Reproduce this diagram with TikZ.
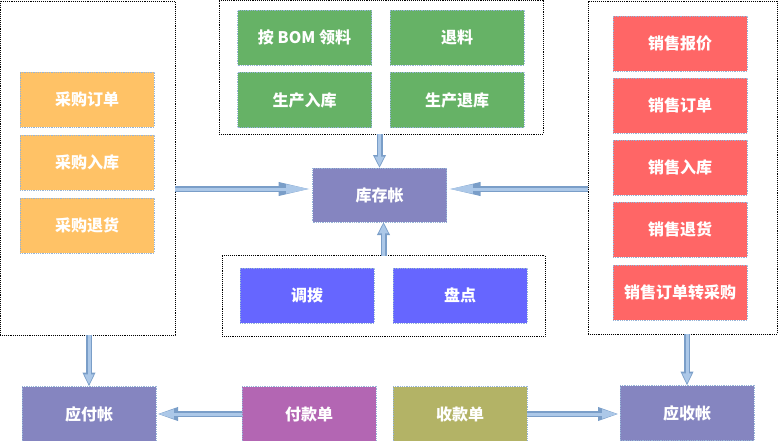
\documentclass[tikz,border=0pt]{standalone}
\usepackage{fontspec}
\newfontfamily\cjk{Noto Sans CJK SC}
\usetikzlibrary{arrows.meta}
\definecolor{buycol}{RGB}{255,194,102}
\definecolor{makecol}{RGB}{102,178,102}
\definecolor{sellcol}{RGB}{255,102,102}
\definecolor{movecol}{RGB}{102,102,255}
\definecolor{acctcol}{RGB}{133,133,192}
\definecolor{paycol}{RGB}{179,102,179}
\definecolor{reccol}{RGB}{179,179,102}
\definecolor{boxedge}{RGB}{150,180,215}
\definecolor{flowedge}{RGB}{122,158,200}
\definecolor{flowfill}{RGB}{172,200,232}

\begin{document}
\begin{tikzpicture}[x=1pt, y=-1pt,
  group/.style={draw=black, densely dotted, line width=0.9pt,
                inner sep=0pt, outer sep=0pt},
  unit/.style={draw=boxedge, densely dotted, line width=0.8pt, fill=#1,
               text=white, minimum width=134pt, minimum height=55pt,
               inner sep=0pt, outer sep=0pt,
               font=\cjk\bfseries\fontsize{16}{19}\selectfont},
  flow/.style={draw=flowedge, line width=6pt,
               -{Triangle[length=#1pt, width=12pt]},
               postaction={draw=flowfill, line width=3pt, shorten >=2pt,
                           -{Triangle[length=#1pt, width=12pt, scale=0.72]}}},
  flow/.default=14,
]
\useasboundingbox (0,0) rectangle (778,441);

% ---- groups ----
\node[group, minimum width=175pt, minimum height=334pt] (purch) at (87.5,168) {};
\node[group, minimum width=324pt, minimum height=134pt] (prod) at (381,67) {};
\node[group, minimum width=189pt, minimum height=333pt] (sales) at (682.5,167.5) {};
\node[group, minimum width=323pt, minimum height=81pt] (move) at (383.5,296) {};

% ---- purchasing ----
\node[unit=buycol] (po) at (87,99.5) {采购订单};
\node[unit=buycol] (pin) at (87,162.5) {采购入库};
\node[unit=buycol] (pret) at (87,225.5) {采购退货};

% ---- production ----
\node[unit=makecol] (bom) at (304.5,37.5) {按 BOM 领料};
\node[unit=makecol] (back) at (457,37.5) {退料};
\node[unit=makecol] (fin) at (304.5,100) {生产入库};
\node[unit=makecol] (fret) at (457,100) {生产退库};

% ---- inventory ----
\node[unit=acctcol, minimum height=54pt] (inv) at (379.5,195) {库存帐};

% ---- sales ----
\node[unit=sellcol] (quote) at (680,43.5) {销售报价};
\node[unit=sellcol] (so) at (680,105.5) {销售订单};
\node[unit=sellcol] (sin) at (680,167.5) {销售入库};
\node[unit=sellcol] (sret) at (680,229.5) {销售退货};
\node[unit=sellcol] (s2p) at (680,292.5) {销售订单转采购};

% ---- stock moves ----
\node[unit=movecol] (tr) at (307,295.5) {调拨};
\node[unit=movecol] (cnt) at (460,295.5) {盘点};

% ---- accounts ----
\node[unit=acctcol] (ap) at (89,414) {应付帐};
\node[unit=paycol] (pay) at (309,414) {付款单};
\node[unit=reccol] (rec) at (460,414) {收款单};
\node[unit=acctcol] (ar) at (687,413) {应收帐};

% ---- flows ----
\coordinate (invL) at ([yshift=6pt]inv.west);
\coordinate (invR) at ([yshift=6pt]inv.east);
\draw[flow=34] (invL -| purch.east) -- (invL);
\draw[flow=34] (invR -| sales.west) -- (invR);
\draw[flow=13] (prod.south -| inv.north) -- (inv.north);
\draw[flow=13] (move.north) -- (move.north |- inv.south);
\draw[flow] (purch.south -| ap.north) -- (ap.north);
\draw[flow] (sales.south -| ar.north) -- (ar.north);
\draw[flow=22] (pay.west) -- (pay.west -| ap.east);
\draw[flow=22] (rec.east) -- (rec.east -| ar.west);

\end{tikzpicture}
\end{document}
